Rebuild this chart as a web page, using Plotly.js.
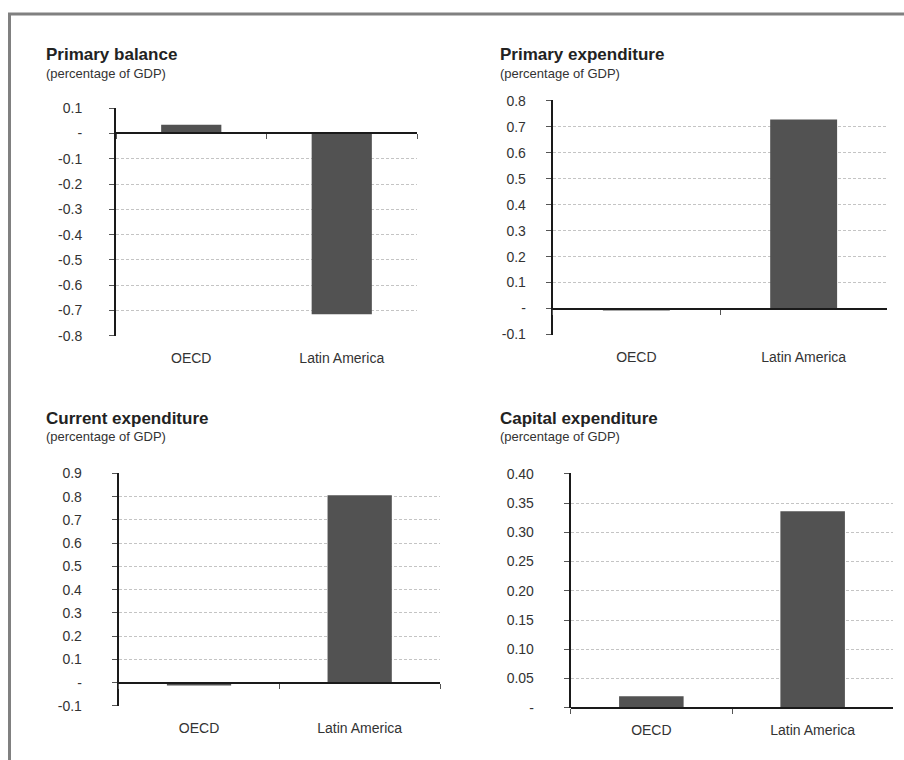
<!DOCTYPE html>
<html>
<head>
<meta charset="utf-8">
<script src="https://cdn.plot.ly/plotly-3.0.1.min.js"></script>
<style>
  html, body { margin: 0; padding: 0; background: #ffffff; }
  #chart { width: 904px; height: 760px; }
</style>
</head>
<body>
<div id="chart"></div>
<script>
// ---------- data ----------
const categories = ['OECD', 'Latin America'];

const primaryBalance     = [0.034, -0.715];
const primaryExpenditure = [-0.007, 0.728];
const currentExpenditure = [-0.012, 0.806];
const capitalExpenditure = [0.020, 0.336];

const panelTitles = ['Primary balance', 'Primary expenditure', 'Current expenditure', 'Capital expenditure'];
const panelSubtitle = '(percentage of GDP)';

const pbTickVals = [0.1, 0, -0.1, -0.2, -0.3, -0.4, -0.5, -0.6, -0.7, -0.8];
const pbTickText = ['0.1', '-', '-0.1', '-0.2', '-0.3', '-0.4', '-0.5', '-0.6', '-0.7', '-0.8'];
const peTickVals = [0.8, 0.7, 0.6, 0.5, 0.4, 0.3, 0.2, 0.1, 0, -0.1];
const peTickText = ['0.8', '0.7', '0.6', '0.5', '0.4', '0.3', '0.2', '0.1', '-', '-0.1'];
const ceTickVals = [0.9, 0.8, 0.7, 0.6, 0.5, 0.4, 0.3, 0.2, 0.1, 0, -0.1];
const ceTickText = ['0.9', '0.8', '0.7', '0.6', '0.5', '0.4', '0.3', '0.2', '0.1', '-', '-0.1'];
const kaTickVals = [0.40, 0.35, 0.30, 0.25, 0.20, 0.15, 0.10, 0.05, 0];
const kaTickText = ['0.40', '0.35', '0.30', '0.25', '0.20', '0.15', '0.10', '0.05', '-'];

// ---------- layout geometry (pixels) ----------
const W = 904, H = 760;
const px = x => x / W;
const py = y => (H - y) / H;

const panels = [
  { values: primaryBalance,     tv: pbTickVals, tt: pbTickText, range: [-0.8, 0.1],
    box: [116, 417, 107.7, 336.3], title: [44, 54.5, 73.5], standoff: 24 },
  { values: primaryExpenditure, tv: peTickVals, tt: peTickText, range: [-0.1, 0.8],
    box: [552.7, 887.3, 100.3, 335], title: [498, 54.5, 73.5], standoff: 17 },
  { values: currentExpenditure, tv: ceTickVals, tt: ceTickText, range: [-0.1, 0.9],
    box: [118.7, 440, 473, 706.3], title: [44, 418, 436.5], standoff: 27 },
  { values: capitalExpenditure, tv: kaTickVals, tt: kaTickText, range: [0, 0.4],
    box: [570.7, 893.3, 473.3, 708.3], title: [498, 418, 436.5], standoff: 27 }
];

const FONT = 'Arial, "Liberation Sans", Helvetica, sans-serif';
const traces = [];
const layout = {
  width: W, height: H,
  margin: { l: 0, r: 0, t: 0, b: 0, pad: 0 },
  paper_bgcolor: '#ffffff',
  plot_bgcolor: 'rgba(0,0,0,0)',
  showlegend: false,
  bargap: 0.6,
  font: { family: FONT, size: 14, color: '#333333' },
  annotations: [],
  shapes: [
    { type: 'rect', xref: 'paper', yref: 'paper',
      x0: px(9.5), x1: px(915), y0: py(14), y1: py(775),
      line: { color: '#808080', width: 3 }, fillcolor: 'rgba(0,0,0,0)', layer: 'below' }
  ]
};

panels.forEach((p, i) => {
  const n = i + 1;
  const xr = n === 1 ? 'x' : 'x' + n;
  const yr = n === 1 ? 'y' : 'y' + n;
  const xk = n === 1 ? 'xaxis' : 'xaxis' + n;
  const yk = n === 1 ? 'yaxis' : 'yaxis' + n;
  const fn = n + 4;
  const fxr = 'x' + fn;
  const fxk = 'xaxis' + fn;

  const [x0, x1, yTop, yBot] = p.box;
  const d0 = py(yBot), d1 = py(yTop);
  const span = p.range[1] - p.range[0];
  const eps = span * 0.002;
  const r = [p.range[0] - eps, p.range[1] + eps];
  const zeroPos = d0 + (0 - r[0]) / (r[1] - r[0]) * (d1 - d0);

  traces.push({
    type: 'bar', x: categories, y: p.values, xaxis: xr, yaxis: yr,
    marker: { color: '#525252', line: { width: 0 } },
    hoverinfo: 'skip', showlegend: false
  });
  // helper trace so the zero-line axis (with boundary ticks) exists
  traces.push({
    type: 'scatter', mode: 'markers', x: categories, y: [null, null],
    xaxis: fxr, yaxis: yr, hoverinfo: 'skip', showlegend: false
  });

  layout[xk] = {
    domain: [px(x0), px(x1)], anchor: yr,
    type: 'category', categoryorder: 'array', categoryarray: categories,
    range: [-0.5, 1.5], fixedrange: true,
    showline: false, showgrid: false, zeroline: false, ticks: '',
    ticklabelstandoff: 12,
    tickfont: { family: FONT, size: 14, color: '#333333' }
  };
  layout[fxk] = {
    overlaying: xr, anchor: 'free', position: zeroPos,
    type: 'category', categoryorder: 'array', categoryarray: categories,
    range: [-0.5, 1.5], fixedrange: true,
    showline: true, linecolor: '#1a1a1a', linewidth: 2,
    showgrid: false, zeroline: false,
    ticks: 'outside', tickson: 'boundaries', ticklen: 5, tickwidth: 1, tickcolor: '#555555',
    showticklabels: false
  };
  layout[yk] = {
    domain: [d0, d1], anchor: xr, range: r, fixedrange: true,
    tickmode: 'array', tickvals: p.tv, ticktext: p.tt,
    showline: true, linecolor: '#1a1a1a', linewidth: 2,
    ticks: 'outside', ticklen: 5, tickwidth: 1, tickcolor: '#555555',
    ticklabelstandoff: p.standoff,
    showgrid: true, gridcolor: '#c4c4c4', gridwidth: 1, griddash: '3px,2px',
    zeroline: false,
    tickfont: { family: FONT, size: 14, color: '#333333' }
  };

  const [tx, ty1, ty2] = p.title;
  layout.annotations.push({
    xref: 'paper', yref: 'paper', x: px(tx), y: py(ty1),
    xanchor: 'left', yanchor: 'middle', showarrow: false,
    text: '<b>' + panelTitles[i] + '</b>',
    font: { family: FONT, size: 17, color: '#222222' }
  });
  layout.annotations.push({
    xref: 'paper', yref: 'paper', x: px(tx), y: py(ty2),
    xanchor: 'left', yanchor: 'middle', showarrow: false,
    text: panelSubtitle,
    font: { family: FONT, size: 13, color: '#333333' }
  });
});

Plotly.newPlot('chart', traces, layout, { staticPlot: true, displayModeBar: false });
</script>
</body>
</html>
